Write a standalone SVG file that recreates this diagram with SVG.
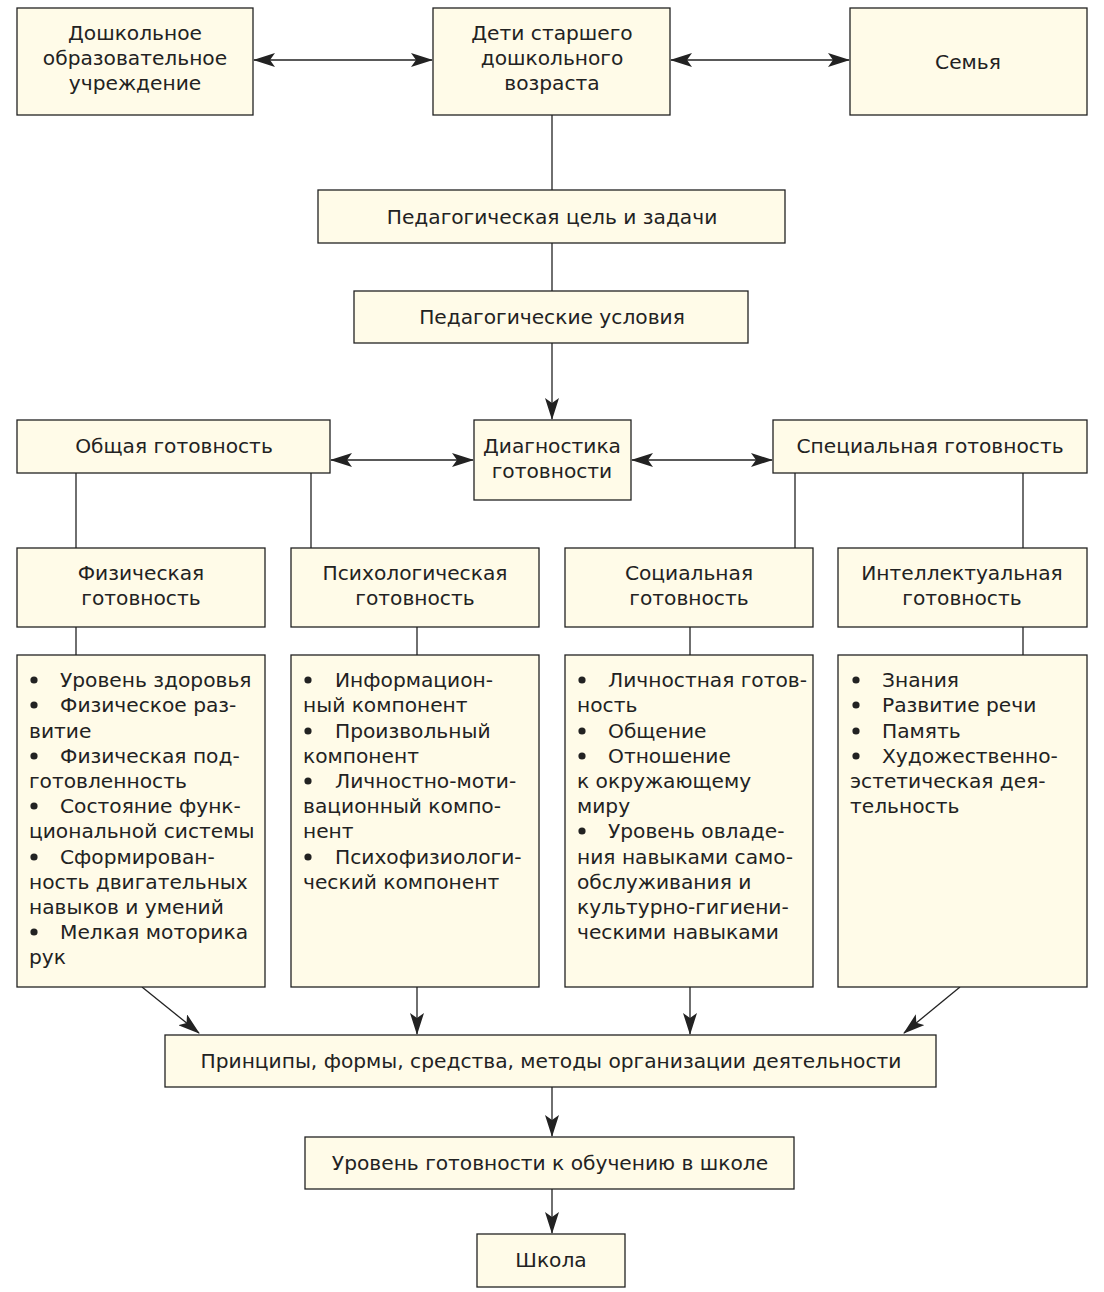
<svg xmlns="http://www.w3.org/2000/svg" width="1104" height="1292" viewBox="0 0 1104 1292">
<style>
.box{fill:#fffbe8;stroke:#222;stroke-width:1.3}
.t{font-family:"DejaVu Sans","Liberation Sans",Arial,sans-serif;font-size:20.2px;fill:#222}
.c{text-anchor:middle}
.ln{stroke:#222;stroke-width:1.3;fill:none}
.dot{fill:#222}
</style>
<defs>
<marker id="ah" markerUnits="userSpaceOnUse" markerWidth="22" markerHeight="14" refX="21" refY="7" orient="auto-start-reverse" viewBox="0 0 22 14">
<path d="M0,0 L22,7 L0,14 L5,7 Z" fill="#222"/>
</marker>
</defs>
<rect width="1104" height="1292" fill="#fff"/>
<g id="connectors">
<line class="ln" x1="254" y1="60" x2="432" y2="60" marker-start="url(#ah)" marker-end="url(#ah)"/>
<line class="ln" x1="671" y1="60" x2="849" y2="60" marker-start="url(#ah)" marker-end="url(#ah)"/>
<line class="ln" x1="552" y1="115" x2="552" y2="190"/>
<line class="ln" x1="552" y1="243" x2="552" y2="291"/>
<line class="ln" x1="552" y1="343" x2="552" y2="419" marker-end="url(#ah)"/>
<line class="ln" x1="331" y1="460" x2="473" y2="460" marker-start="url(#ah)" marker-end="url(#ah)"/>
<line class="ln" x1="632" y1="460" x2="772" y2="460" marker-start="url(#ah)" marker-end="url(#ah)"/>
<line class="ln" x1="76" y1="473" x2="76" y2="548"/>
<line class="ln" x1="311" y1="473" x2="311" y2="548"/>
<line class="ln" x1="795" y1="473" x2="795" y2="548"/>
<line class="ln" x1="1023" y1="473" x2="1023" y2="548"/>
<line class="ln" x1="76" y1="627" x2="76" y2="655"/>
<line class="ln" x1="417" y1="627" x2="417" y2="655"/>
<line class="ln" x1="690" y1="627" x2="690" y2="655"/>
<line class="ln" x1="1023" y1="627" x2="1023" y2="655"/>
<line class="ln" x1="142" y1="987" x2="199" y2="1033" marker-end="url(#ah)"/>
<line class="ln" x1="417" y1="987" x2="417" y2="1034" marker-end="url(#ah)"/>
<line class="ln" x1="690" y1="987" x2="690" y2="1034" marker-end="url(#ah)"/>
<line class="ln" x1="960" y1="987" x2="904" y2="1033" marker-end="url(#ah)"/>
<line class="ln" x1="552" y1="1087" x2="552" y2="1136" marker-end="url(#ah)"/>
<line class="ln" x1="552" y1="1189" x2="552" y2="1233" marker-end="url(#ah)"/>
</g>
<g id="n-dou"><rect class="box" x="17" y="8" width="236" height="107"/>
<text class="t c" x="135" y="40">Дошкольное</text><text class="t c" x="135" y="65">образовательное</text><text class="t c" x="135" y="90">учреждение</text></g>
<g id="n-deti"><rect class="box" x="433" y="8" width="237" height="107"/>
<text class="t c" x="552" y="40">Дети старшего</text><text class="t c" x="552" y="65">дошкольного</text><text class="t c" x="552" y="90">возраста</text></g>
<g id="n-semya"><rect class="box" x="850" y="8" width="237" height="107"/>
<text class="t c" x="968" y="69">Семья</text></g>
<g id="n-cel"><rect class="box" x="318" y="190" width="467" height="53"/>
<text class="t c" x="552" y="224">Педагогическая цель и задачи</text></g>
<g id="n-usl"><rect class="box" x="354" y="291" width="394" height="52"/>
<text class="t c" x="552" y="324">Педагогические условия</text></g>
<g id="n-obsh"><rect class="box" x="17" y="420" width="313" height="53"/>
<text class="t c" x="174" y="453">Общая готовность</text></g>
<g id="n-diag"><rect class="box" x="474" y="420" width="157" height="80"/>
<text class="t c" x="552" y="453">Диагностика</text><text class="t c" x="552" y="478">готовности</text></g>
<g id="n-spec"><rect class="box" x="773" y="420" width="314" height="53"/>
<text class="t c" x="930" y="453">Специальная готовность</text></g>
<g id="n-fiz"><rect class="box" x="17" y="548" width="248" height="79"/>
<text class="t c" x="141" y="580">Физическая</text><text class="t c" x="141" y="605">готовность</text></g>
<g id="n-psy"><rect class="box" x="291" y="548" width="248" height="79"/>
<text class="t c" x="415" y="580">Психологическая</text><text class="t c" x="415" y="605">готовность</text></g>
<g id="n-soc"><rect class="box" x="565" y="548" width="248" height="79"/>
<text class="t c" x="689" y="580">Социальная</text><text class="t c" x="689" y="605">готовность</text></g>
<g id="n-int"><rect class="box" x="838" y="548" width="249" height="79"/>
<text class="t c" x="962" y="580">Интеллектуальная</text><text class="t c" x="962" y="605">готовность</text></g>
<g id="n-fiz-list"><rect class="box" x="17" y="655" width="248" height="332"/>
<circle class="dot" cx="34" cy="680" r="3.6"/><circle class="dot" cx="34" cy="705" r="3.6"/><circle class="dot" cx="34" cy="756" r="3.6"/><circle class="dot" cx="34" cy="806" r="3.6"/><circle class="dot" cx="34" cy="857" r="3.6"/><circle class="dot" cx="34" cy="932" r="3.6"/>
<text class="t"><tspan x="60" y="687">Уровень здоровья</tspan>
<tspan x="60" y="712">Физическое раз-</tspan>
<tspan x="29" y="738">витие</tspan>
<tspan x="60" y="763">Физическая под-</tspan>
<tspan x="29" y="788">готовленность</tspan>
<tspan x="60" y="813">Состояние функ-</tspan>
<tspan x="29" y="838">циональной системы</tspan>
<tspan x="60" y="864">Сформирован-</tspan>
<tspan x="29" y="889">ность двигательных</tspan>
<tspan x="29" y="914">навыков и умений</tspan>
<tspan x="60" y="939">Мелкая моторика</tspan>
<tspan x="29" y="964">рук</tspan></text></g>
<g id="n-psy-list"><rect class="box" x="291" y="655" width="248" height="332"/>
<circle class="dot" cx="308" cy="680" r="3.6"/><circle class="dot" cx="308" cy="731" r="3.6"/><circle class="dot" cx="308" cy="781" r="3.6"/><circle class="dot" cx="308" cy="857" r="3.6"/>
<text class="t"><tspan x="335" y="687">Информацион-</tspan>
<tspan x="303" y="712">ный компонент</tspan>
<tspan x="335" y="738">Произвольный</tspan>
<tspan x="303" y="763">компонент</tspan>
<tspan x="335" y="788">Личностно-моти-</tspan>
<tspan x="303" y="813">вационный компо-</tspan>
<tspan x="303" y="838">нент</tspan>
<tspan x="335" y="864">Психофизиологи-</tspan>
<tspan x="303" y="889">ческий компонент</tspan></text></g>
<g id="n-soc-list"><rect class="box" x="565" y="655" width="248" height="332"/>
<circle class="dot" cx="582" cy="680" r="3.6"/><circle class="dot" cx="582" cy="731" r="3.6"/><circle class="dot" cx="582" cy="756" r="3.6"/><circle class="dot" cx="582" cy="831" r="3.6"/>
<text class="t"><tspan x="608" y="687">Личностная готов-</tspan>
<tspan x="577" y="712">ность</tspan>
<tspan x="608" y="738">Общение</tspan>
<tspan x="608" y="763">Отношение</tspan>
<tspan x="577" y="788">к окружающему</tspan>
<tspan x="577" y="813">миру</tspan>
<tspan x="608" y="838">Уровень овладе-</tspan>
<tspan x="577" y="864">ния навыками само-</tspan>
<tspan x="577" y="889">обслуживания и</tspan>
<tspan x="577" y="914">культурно-гигиени-</tspan>
<tspan x="577" y="939">ческими навыками</tspan></text></g>
<g id="n-int-list"><rect class="box" x="838" y="655" width="249" height="332"/>
<circle class="dot" cx="856" cy="680" r="3.6"/><circle class="dot" cx="856" cy="705" r="3.6"/><circle class="dot" cx="856" cy="731" r="3.6"/><circle class="dot" cx="856" cy="756" r="3.6"/>
<text class="t"><tspan x="882" y="687">Знания</tspan>
<tspan x="882" y="712">Развитие речи</tspan>
<tspan x="882" y="738">Память</tspan>
<tspan x="882" y="763">Художественно-</tspan>
<tspan x="850" y="788">эстетическая дея-</tspan>
<tspan x="850" y="813">тельность</tspan></text></g>
<g id="n-princ"><rect class="box" x="165" y="1035" width="771" height="52"/>
<text class="t c" x="551" y="1068">Принципы, формы, средства, методы организации деятельности</text></g>
<g id="n-uroven"><rect class="box" x="305" y="1137" width="489" height="52"/>
<text class="t c" x="550" y="1170">Уровень готовности к обучению в школе</text></g>
<g id="n-shkola"><rect class="box" x="477" y="1234" width="148" height="53"/>
<text class="t c" x="551" y="1267">Школа</text></g>
</svg>
